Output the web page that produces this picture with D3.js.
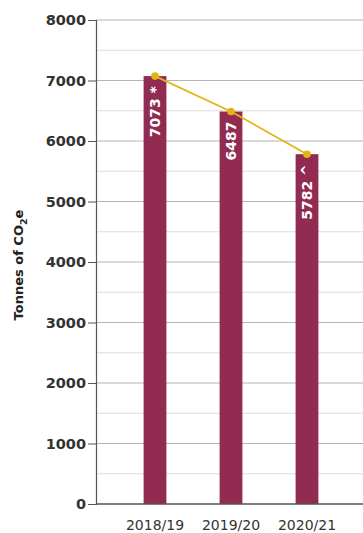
<!DOCTYPE html>
<html><head><meta charset="utf-8">
<script src="https://cdn.jsdelivr.net/npm/d3@7"></script>
<style>body{margin:0;background:#fff}svg{display:block;font-family:"DejaVu Sans",sans-serif}</style>
</head><body><svg id="c" width="363" height="533"></svg>
<script>
const categories = ["2018/19","2019/20","2020/21"];
const values = [7073, 6487, 5782];
const barLabels = ["7073 *","6487","5782 ^"];
const yTicks = [0,1000,2000,3000,4000,5000,6000,7000,8000];
const yMinor = [500,1500,2500,3500,4500,5500,6500,7500];

(function(){
const svg = d3.select("#c");
const mLeft = 96, mRight = 363, mTop = 20, mBottom = 504;
const y = d3.scaleLinear().domain([0,8000]).range([mBottom, mTop]);
const x = d3.scaleBand().domain(categories).range([117,345]).paddingInner(0.7).paddingOuter(0.35);

svg.append("g").selectAll("line").data(yMinor).join("line")
  .attr("x1", mLeft).attr("x2", mRight).attr("y1", d=>y(d)).attr("y2", d=>y(d))
  .attr("stroke", "#dcdcdc").attr("stroke-width", 1);
svg.append("g").selectAll("line").data(yTicks.filter(d=>d>0)).join("line")
  .attr("x1", mLeft).attr("x2", mRight).attr("y1", d=>y(d)).attr("y2", d=>y(d))
  .attr("stroke", "#b4b4b4").attr("stroke-width", 1);

svg.append("g").selectAll("rect").data(values).join("rect")
  .attr("x", (d,i)=>x(categories[i])).attr("width", x.bandwidth())
  .attr("y", d=>y(d)).attr("height", d=>mBottom - y(d))
  .attr("fill", "#922b52");

const yAxis = d3.axisLeft(y).tickValues(yTicks).tickSize(8).tickPadding(2).tickFormat(d3.format("d"));
const ga = svg.append("g").attr("transform", `translate(${mLeft},0)`).call(yAxis);
ga.select(".domain").attr("stroke", "#555").attr("stroke-width", 1.2);
ga.selectAll(".tick line").attr("stroke", "#555");
ga.selectAll(".tick text").attr("font-size", 14.5).attr("font-weight", "bold").attr("fill", "#333").attr("font-family", "DejaVu Sans, sans-serif");

svg.append("line").attr("x1", mLeft).attr("x2", mRight).attr("y1", mBottom).attr("y2", mBottom).attr("stroke", "#555").attr("stroke-width", 1.5);

svg.append("g").selectAll("text").data(categories).join("text")
  .attr("x", d=>x(d)+x.bandwidth()/2).attr("y", 530)
  .attr("text-anchor", "middle").attr("font-size", 14).attr("fill", "#333").text(d=>d);

svg.append("g").selectAll("text").data(values).join("text")
  .attr("transform", (d,i)=>`translate(${x(categories[i])+x.bandwidth()/2+5},${y(d)+10}) rotate(-90)`)
  .attr("text-anchor", "end").attr("font-size", 14).attr("font-weight", "bold").attr("fill", "#fff")
  .text((d,i)=>barLabels[i]);

const line = d3.line().x((d,i)=>x(categories[i])+x.bandwidth()/2).y(d=>y(d));
svg.append("path").datum(values).attr("d", line).attr("fill","none").attr("stroke","#e3b418").attr("stroke-width",1.8);
svg.append("g").selectAll("circle").data(values).join("circle")
  .attr("cx",(d,i)=>x(categories[i])+x.bandwidth()/2).attr("cy", d=>y(d)).attr("r",3.8).attr("fill","#e3b418");

const t = svg.append("text").attr("transform","translate(23,265) rotate(-90)")
  .attr("text-anchor","middle").attr("font-size",13).attr("font-weight","bold").attr("fill","#222");
t.append("tspan").text("Tonnes of CO");
t.append("tspan").attr("font-size",9.5).attr("dy",4).text("2");
t.append("tspan").attr("dy",-4).text("e");
})();
</script></body></html>
